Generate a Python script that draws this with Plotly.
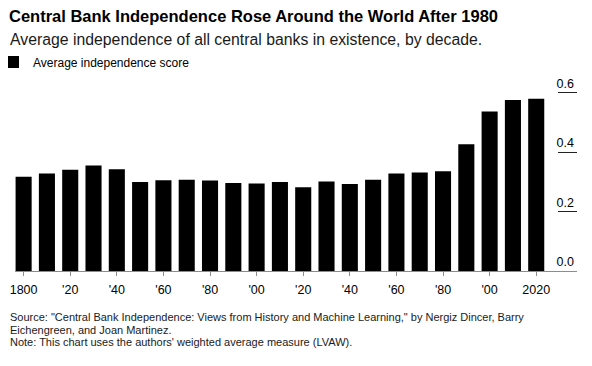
import plotly.graph_objects as go

decades = list(range(1800, 2030, 10))
scores = [0.317, 0.328, 0.341, 0.355, 0.343, 0.300, 0.306, 0.307, 0.305, 0.296,
          0.295, 0.300, 0.282, 0.301, 0.293, 0.307, 0.328, 0.332, 0.336, 0.427,
          0.537, 0.576, 0.580]
x_tickvals = [1800, 1820, 1840, 1860, 1880, 1900, 1920, 1940, 1960, 1980, 2000, 2020]
x_ticktext = ["1800", "'20", "'40", "'60", "'80", "'00", "'20", "'40", "'60", "'80", "'00", "2020"]
y_tickvals = [0.0, 0.2, 0.4, 0.6]
y_ticktext = ["0.0", "0.2", "0.4", "0.6"]

title = "Central Bank Independence Rose Around the World After 1980"
subtitle = "Average independence of all central banks in existence, by decade."
series_name = "Average independence score"
source1 = "Source: \"Central Bank Independence: Views from History and Machine Learning,\" by Nergiz Dincer, Barry"
source2 = "Eichengreen, and Joan Martinez."
note = "Note: This chart uses the authors' weighted average measure (LVAW)."

FONT = "Liberation Sans, Arial, Helvetica, sans-serif"
W, H = 592, 366
# the page body adds an 8px offset; positions below are given in screen pixels
OFF = 8
plot_left, plot_right, plot_top, plot_bottom = 15, 577, 75, 271
L = plot_left - OFF
R = W - (plot_right - OFF)
T = plot_top - OFF
B = H - (plot_bottom - OFF)
ph = plot_bottom - plot_top
pw = plot_right - plot_left

def py(px):
    return (plot_bottom - px) / ph

def pxr(px):
    return (px - plot_left) / pw

fig = go.Figure()
fig.add_trace(go.Bar(x=decades, y=scores, name=series_name, marker_color="#000000",
                     marker_line_width=0, showlegend=True))

fig.update_layout(
    width=W, height=H,
    margin=dict(l=L, r=R, t=T, b=B, autoexpand=False),
    paper_bgcolor="white", plot_bgcolor="white",
    font=dict(family=FONT, color="#000000", size=12),
    bargap=0.31,
    showlegend=True,
    legend=dict(x=pxr(-7), y=py(62), yanchor="middle", xanchor="left",
                orientation="h", font=dict(size=12, color="#000000"), itemwidth=30,
                bgcolor="rgba(0,0,0,0)"),
    xaxis=dict(range=[1796.3, 2037.5], tickvals=x_tickvals, ticktext=x_ticktext,
               showline=True, linecolor="#8c8c8c", linewidth=1,
               ticks="outside", ticklen=4, tickcolor="#8c8c8c", tickwidth=1,
               ticklabelstandoff=3,
               showgrid=False, zeroline=False,
               tickfont=dict(size=12.5, color="#000000")),
    yaxis=dict(range=[0, 0.66], side="right", tickvals=y_tickvals, ticktext=y_ticktext,
               showgrid=False, zeroline=False, showline=False,
               ticks="inside", ticklen=19, tickcolor="#222222", tickwidth=1,
               ticklabelposition="inside top",
               tickfont=dict(size=12.5, color="#000000")),
)

fig.add_annotation(text="<b>" + title + "</b>", xref="paper", yref="paper", x=pxr(8), y=py(16),
                   xanchor="left", yanchor="middle", showarrow=False, borderpad=0,
                   font=dict(size=16.5, color="#000000"))
fig.add_annotation(text=subtitle, xref="paper", yref="paper", x=pxr(8), y=py(39.5),
                   xanchor="left", yanchor="middle", showarrow=False,
                   font=dict(size=15.8, color="#1a1a1a"))
for txt, ypx in [(source1, 317), (source2, 329.5), (note, 342)]:
    fig.add_annotation(text=txt, xref="paper", yref="paper", x=pxr(8), y=py(ypx),
                       xanchor="left", yanchor="middle", showarrow=False,
                       font=dict(size=11, color="#1a1a1a"))

fig.write_html("out.html")
